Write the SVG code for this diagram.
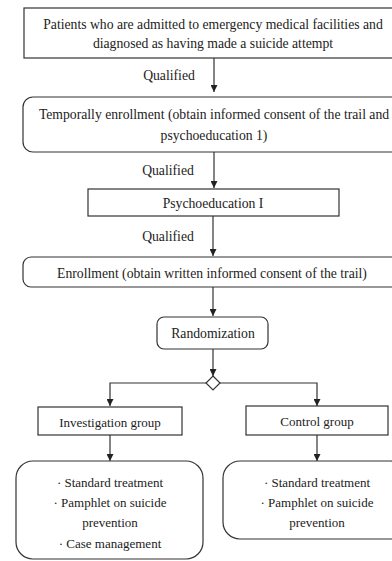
<svg xmlns="http://www.w3.org/2000/svg" width="392" height="561" viewBox="0 0 392 561">
<style>
.box{fill:#fff;stroke:#333;stroke-width:1.2}
.t{font-family:'Liberation Serif','Times New Roman',serif;font-size:13.7px;fill:#222;text-anchor:middle;dominant-baseline:central}
.s{font-size:13px}
.c{fill:none;stroke:#333;stroke-width:1.2}
</style>
<defs>
<marker id="ah" viewBox="0 0 10 10" refX="10" refY="5" markerWidth="7" markerHeight="7" markerUnits="userSpaceOnUse" orient="auto">
<path d="M0,0 L10,5 L0,10 z" fill="#222"/>
</marker>
</defs>
<rect width="392" height="561" fill="#fff"/>
<g id="connectors">
<line class="c" x1="214" y1="58" x2="214" y2="92" marker-end="url(#ah)"/>
<line class="c" x1="214" y1="152" x2="214" y2="188" marker-end="url(#ah)"/>
<line class="c" x1="213" y1="216" x2="213" y2="256" marker-end="url(#ah)"/>
<line class="c" x1="213" y1="287" x2="213" y2="316" marker-end="url(#ah)"/>
<line class="c" x1="213" y1="349" x2="213" y2="376" marker-end="url(#ah)"/>
<polyline class="c" points="206,383 110,383 110,406" marker-end="url(#ah)"/>
<polyline class="c" points="220,383 317,383 317,406" marker-end="url(#ah)"/>
<line class="c" x1="110" y1="435" x2="110" y2="461" marker-end="url(#ah)"/>
<line class="c" x1="317" y1="435" x2="317" y2="461" marker-end="url(#ah)"/>
<text class="t" x="169" y="75">Qualified</text>
<text class="t" x="168" y="170">Qualified</text>
<text class="t" x="168" y="236">Qualified</text>
</g>
<g id="n1">
<rect class="box" x="24" y="8" width="380" height="50"/>
<text class="t" x="213" y="24">Patients who are admitted to emergency medical facilities and</text>
<text class="t" x="213" y="43">diagnosed as having made a suicide attempt</text>
</g>
<g id="n2">
<rect class="box" x="23" y="97" width="381" height="55" rx="10"/>
<text class="t" x="214" y="114">Temporally enrollment (obtain informed consent of the trail and</text>
<text class="t" x="214" y="135">psychoeducation 1)</text>
</g>
<g id="n3">
<rect class="box" x="88" y="189" width="251" height="27"/>
<text class="t" x="213" y="203">Psychoeducation I</text>
</g>
<g id="n4">
<rect class="box" x="23" y="257" width="381" height="30" rx="8"/>
<text class="t" x="212" y="273">Enrollment (obtain written informed consent of the trail)</text>
</g>
<g id="n5">
<rect class="box" x="157" y="317" width="111" height="32" rx="7"/>
<text class="t" x="213" y="333">Randomization</text>
</g>
<g id="n6">
<polygon class="box" points="213,376 220,383 213,390 206,383"/>
</g>
<g id="n7">
<rect class="box" x="38" y="407" width="144" height="28"/>
<text class="t s" x="110" y="422">Investigation group</text>
</g>
<g id="n8">
<rect class="box" x="246" y="406" width="142" height="29"/>
<text class="t s" x="317" y="421">Control group</text>
</g>
<g id="n9">
<rect class="box" x="16" y="461" width="187" height="98" rx="17"/>
<text class="t s" x="110" y="482">· Standard treatment</text>
<text class="t s" x="110" y="502">· Pamphlet on suicide</text>
<text class="t s" x="110" y="522">prevention</text>
<text class="t s" x="110" y="543">· Case management</text>
</g>
<g id="n10">
<rect class="box" x="223" y="461" width="185" height="78" rx="17"/>
<text class="t s" x="317" y="482">· Standard treatment</text>
<text class="t s" x="317" y="502">· Pamphlet on suicide</text>
<text class="t s" x="317" y="522">prevention</text>
</g>
</svg>
